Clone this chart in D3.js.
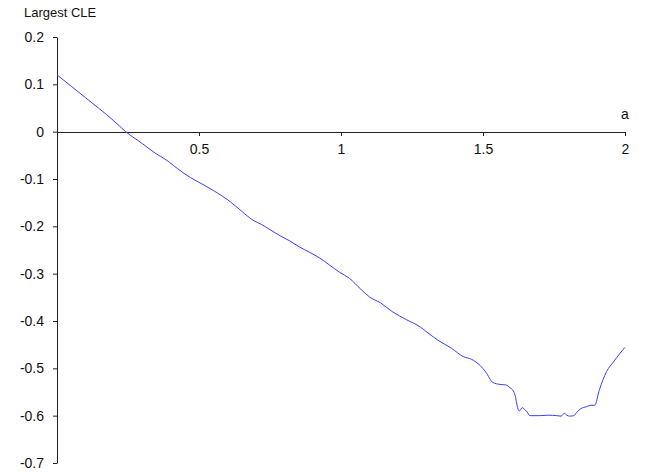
<!DOCTYPE html>
<html>
<head>
<meta charset="utf-8">
<script src="https://cdn.jsdelivr.net/npm/d3@7"></script>
<style>
	body { margin: 0; background: #fff; }
	svg { display: block; }
	text { font-family: "Liberation Sans", Arial, sans-serif; fill: #111; }
</style>
</head>
<body>
<div id="chart"></div>
<script>
// values
const aValues = [
	0.00, 0.05, 0.10, 0.15, 0.20, 0.242, 0.30, 0.35, 0.38, 0.44,
	0.47, 0.50, 0.55, 0.61, 0.65, 0.69, 0.72, 0.75, 0.78, 0.82,
	0.855, 0.89, 0.925, 0.96, 0.995, 1.03, 1.07, 1.10, 1.14, 1.18,
	1.23, 1.28, 1.31, 1.34, 1.39, 1.43, 1.46, 1.49, 1.51, 1.535,
	1.56, 1.58, 1.595, 1.607, 1.615, 1.62, 1.627, 1.632, 1.638, 1.645,
	1.655, 1.665, 1.70, 1.73, 1.76, 1.775, 1.786, 1.795, 1.805, 1.82,
	1.83, 1.845, 1.865, 1.88, 1.893, 1.91, 1.935, 1.96, 1.98, 2.00
]
const cleValues = [
	0.120, 0.096, 0.072, 0.048, 0.023, 0.000, -0.025, -0.047, -0.058, -0.085,
	-0.097, -0.107, -0.124, -0.148, -0.168, -0.187, -0.196, -0.207, -0.218, -0.231,
	-0.244, -0.255, -0.267, -0.282, -0.297, -0.310, -0.333, -0.349, -0.362, -0.380,
	-0.397, -0.413, -0.427, -0.440, -0.458, -0.475, -0.481, -0.494, -0.508, -0.530,
	-0.534, -0.535, -0.541, -0.548, -0.562, -0.578, -0.590, -0.588, -0.583, -0.586,
	-0.592, -0.600, -0.600, -0.599, -0.600, -0.601, -0.595, -0.599, -0.601, -0.600,
	-0.593, -0.585, -0.581, -0.578, -0.578, -0.545, -0.507, -0.486, -0.470, -0.456
]
const xTicks = [0.5, 1, 1.5, 2]
const yTicks = [0.2, 0.1, 0, -0.1, -0.2, -0.3, -0.4, -0.5, -0.6, -0.7]

const width = 652
const height = 472

const svg = d3.select('#chart')
	.append('svg')
	.attr('width', width)
	.attr('height', height)

const x = d3.scaleLinear().domain([0, 2]).range([57, 625])
const y = d3.scaleLinear().domain([-0.7, 0.2]).range([463, 37])

const fmt = d => String(+d.toFixed(1))

// y axis
const yAxis = svg.append('g')
	.attr('transform', `translate(${x(0)},0)`)
	.call(d3.axisLeft(y).tickValues(yTicks).tickSize(4).tickSizeOuter(0).tickPadding(9).tickFormat(fmt))
yAxis.selectAll('path, line').attr('stroke', '#222')
yAxis.selectAll('text').attr('font-size', 14).attr('fill', '#111')
	.style('font-family', '"Liberation Sans", Arial, sans-serif')

// x axis through zero
const xAxis = svg.append('g')
	.attr('transform', `translate(0,${Math.round(y(0))})`)
	.call(d3.axisBottom(x).tickValues(xTicks).tickSize(4).tickSizeOuter(0).tickPadding(8).tickFormat(fmt))
xAxis.selectAll('path, line').attr('stroke', '#222')
xAxis.selectAll('text').attr('font-size', 14).attr('fill', '#111')
	.style('font-family', '"Liberation Sans", Arial, sans-serif')

// axis titles
svg.append('text')
	.attr('x', 24)
	.attr('y', 17)
	.attr('font-size', 13)
	.text('Largest CLE')

svg.append('text')
	.attr('x', x(2))
	.attr('y', 119)
	.attr('text-anchor', 'middle')
	.attr('font-size', 14)
	.text('a')

// the curve
const points = aValues.map((a, i) => [a, cleValues[i]])
const line = d3.line()
	.x(d => x(d[0]))
	.y(d => y(d[1]))
	.curve(d3.curveMonotoneX)

svg.append('path')
	.datum(points)
	.attr('fill', 'none')
	.attr('stroke', '#3c3cff')
	.attr('stroke-width', 1)
	.attr('d', line)
</script>
</body>
</html>
